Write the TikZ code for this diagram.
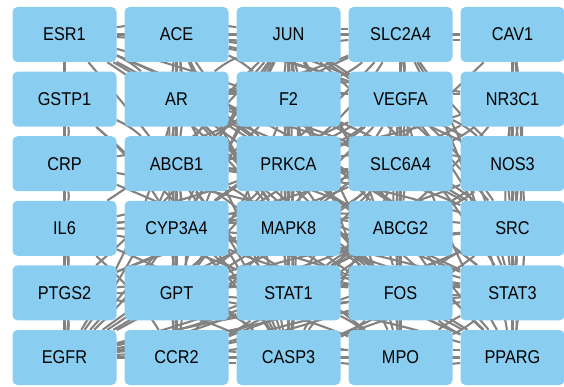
\documentclass[tikz,border=0pt]{standalone}
\usepackage{fontspec}
\setmainfont{Liberation Sans}[FakeStretch=0.88]
\usepackage{xcolor}
\usepackage{tikz}
\usetikzlibrary{backgrounds}
\definecolor{GeneBlue}{RGB}{137, 206, 240}
\definecolor{LinkGray}{RGB}{130, 130, 130}

\tikzset{
  gene/.style={fill=GeneBlue, draw=none, rounded corners=5pt, minimum width=104pt,
               minimum height=55pt, inner sep=0pt, font=\fontsize{18.5}{21}\selectfont},
  link/.style={draw=LinkGray, line width=2.1pt}
}

\begin{document}
\begin{tikzpicture}[x=1pt, y=-1pt]
  \useasboundingbox (0,0) rectangle (564,387);
  % genes, row by row
  \foreach \name/\txt/\c/\r in {
      esr1/ESR1/0/0, ace/ACE/1/0, jun/JUN/2/0, slc2a4/SLC2A4/3/0, cav1/CAV1/4/0,
      gstp1/GSTP1/0/1, ar/AR/1/1, f2/F2/2/1, vegfa/VEGFA/3/1, nr3c1/NR3C1/4/1,
      crp/CRP/0/2, abcb1/ABCB1/1/2, prkca/PRKCA/2/2, slc6a4/SLC6A4/3/2, nos3/NOS3/4/2,
      il6/IL6/0/3, cyp3a4/CYP3A4/1/3, mapk8/MAPK8/2/3, abcg2/ABCG2/3/3, src/SRC/4/3,
      ptgs2/PTGS2/0/4, gpt/GPT/1/4, stat1/STAT1/2/4, fos/FOS/3/4, stat3/STAT3/4/4,
      egfr/EGFR/0/5, ccr2/CCR2/1/5, casp3/CASP3/2/5, mpo/MPO/3/5, pparg/PPARG/4/5}
    \node[gene] (\name) at ({64.5+112*\c}, {34.5+64.6*\r}) {\txt};
  % interactions behind the boxes
  \begin{scope}[on background layer]
    \foreach \a/\b in {esr1/egfr, cav1/pparg, gstp1/il6, crp/ptgs2, ace/ccr2, jun/casp3,
        slc2a4/mpo, esr1/cav1, egfr/pparg}
      \draw[link] (\a) -- (\b);
    \foreach \a/\b in {
        esr1/ar, esr1/jun, esr1/prkca, esr1/mapk8, esr1/stat3, esr1/fos, esr1/pparg,
        esr1/vegfa, esr1/src, ace/ar, ace/f2, ace/nos3, ace/vegfa, ace/abcb1, ace/casp3,
        jun/fos, jun/mapk8, jun/stat1, jun/stat3, jun/egfr, jun/src, jun/ptgs2,
        jun/il6, slc2a4/vegfa, slc2a4/prkca, slc2a4/stat3, slc2a4/pparg, cav1/nos3,
        cav1/src, cav1/egfr, gstp1/abcb1, gstp1/cyp3a4, gstp1/casp3, gstp1/crp,
        ar/egfr, ar/src, ar/stat3, ar/nr3c1, f2/crp, f2/gpt, f2/mpo, vegfa/egfr,
        vegfa/stat3, vegfa/nos3, vegfa/ptgs2, vegfa/mapk8, vegfa/il6, nr3c1/pparg,
        nr3c1/stat1, crp/il6, crp/mpo, abcb1/abcg2, abcb1/cyp3a4, abcb1/ccr2,
        prkca/mapk8, prkca/src, prkca/egfr, prkca/nos3, slc6a4/cyp3a4, slc6a4/mapk8,
        slc6a4/gpt, nos3/egfr, nos3/src, il6/stat3, il6/stat1, il6/ptgs2, il6/ccr2,
        il6/casp3, cyp3a4/abcg2, cyp3a4/pparg, mapk8/casp3, mapk8/stat1, mapk8/fos,
        abcg2/egfr, src/stat3, src/egfr, src/stat1, ptgs2/egfr, ptgs2/pparg,
        ptgs2/casp3, gpt/casp3, gpt/stat1, stat1/stat3, stat1/casp3, fos/casp3,
        fos/egfr, stat3/pparg, egfr/ccr2, ccr2/mpo, casp3/mpo, mpo/pparg}
      \draw[link] (\a) to[bend left=8] (\b);
    \foreach \a/\b in {
        jun/vegfa, jun/prkca, jun/ar, jun/pparg, jun/cyp3a4, jun/abcb1, jun/nos3,
        jun/mpo, jun/gpt, mapk8/egfr, mapk8/stat3, mapk8/src, mapk8/ptgs2, mapk8/il6,
        mapk8/pparg, mapk8/ar, mapk8/abcb1, mapk8/cyp3a4, mapk8/ccr2, mapk8/nos3,
        stat3/egfr, stat3/casp3, stat3/fos, stat3/ptgs2, stat3/crp, stat3/nos3,
        stat3/cav1, stat3/ccr2, stat3/mpo, casp3/egfr, casp3/prkca, casp3/esr1,
        casp3/vegfa, casp3/src, casp3/pparg, casp3/ar, casp3/abcb1, casp3/cyp3a4,
        casp3/slc6a4, egfr/stat1, egfr/il6, egfr/abcb1, egfr/cyp3a4, src/vegfa,
        src/fos, src/il6, src/abcb1, src/f2, src/gpt, prkca/vegfa, prkca/stat3,
        prkca/fos, prkca/ar, prkca/f2, prkca/abcb1, prkca/slc6a4, prkca/cyp3a4,
        prkca/abcg2, prkca/stat1, prkca/gpt, vegfa/f2, vegfa/fos, vegfa/ar,
        vegfa/pparg, vegfa/cyp3a4, vegfa/abcg2, vegfa/slc6a4, f2/ar, f2/abcb1,
        f2/jun, f2/slc2a4, f2/stat1, f2/mapk8, f2/cyp3a4, f2/abcg2, ar/abcb1,
        ar/cyp3a4, ar/pparg, ar/fos, ar/gpt, ar/slc2a4, abcb1/slc6a4, abcb1/stat1,
        abcb1/gpt, abcb1/pparg, abcb1/nr3c1, cyp3a4/gpt, cyp3a4/stat1, cyp3a4/fos,
        cyp3a4/nr3c1, cyp3a4/slc2a4, cyp3a4/ccr2, abcg2/stat1, abcg2/fos, abcg2/nos3,
        abcg2/pparg, abcg2/slc2a4, abcg2/mpo, slc6a4/stat1, slc6a4/fos, slc6a4/nr3c1,
        slc6a4/ar, slc6a4/slc2a4, fos/stat1, fos/ccr2, fos/pparg, fos/mpo, fos/gpt,
        gpt/ccr2, gpt/abcg2, nr3c1/nos3, nr3c1/src, nr3c1/stat3, nr3c1/vegfa,
        slc2a4/jun, slc2a4/nos3, slc2a4/cav1, slc2a4/abcb1, ace/jun, ace/prkca,
        ace/cyp3a4, ace/slc2a4, ace/mapk8, ccr2/casp3, ccr2/stat1, ccr2/abcg2,
        mpo/stat1, mpo/stat3, mpo/gpt}
      \draw[link] (\a) to[bend right=6] (\b);
  \end{scope}
\end{tikzpicture}
\end{document}
